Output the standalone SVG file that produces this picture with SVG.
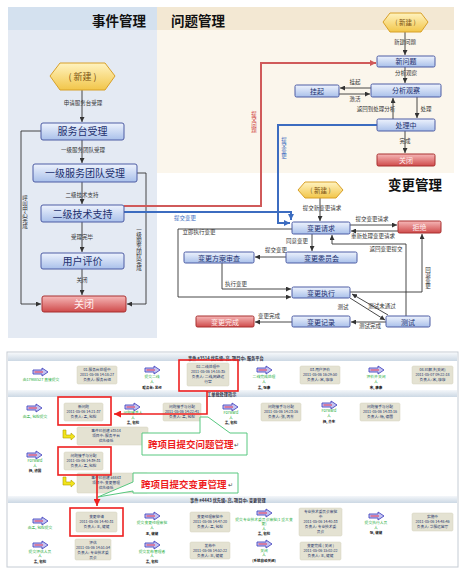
<svg xmlns="http://www.w3.org/2000/svg" xmlns:xlink="http://www.w3.org/1999/xlink" width="464" height="585" viewBox="0 0 464 585">
<defs>
<linearGradient id="gBlue" x1="0" y1="0" x2="0" y2="1"><stop offset="0" stop-color="#eef3fd"/><stop offset="1" stop-color="#a9c0ea"/></linearGradient>
<linearGradient id="gRed" x1="0" y1="0" x2="0" y2="1"><stop offset="0" stop-color="#f6b8b8"/><stop offset="1" stop-color="#cf4a4a"/></linearGradient>
<linearGradient id="gHex" x1="0" y1="0" x2="0" y2="1"><stop offset="0" stop-color="#fff3c0"/><stop offset="1" stop-color="#f2c64a"/></linearGradient>
<linearGradient id="gHdr" x1="0" y1="0" x2="0" y2="1"><stop offset="0" stop-color="#f4f7fa"/><stop offset="1" stop-color="#ccd8e4"/></linearGradient>
<marker id="ah" viewBox="0 0 6 6" refX="6" refY="3" markerWidth="5" markerHeight="5" markerUnits="userSpaceOnUse" orient="auto"><path d="M0,0 L6,3 L0,6 z" fill="#333"/></marker>
<marker id="ahR" viewBox="0 0 6 6" refX="6" refY="3" markerWidth="6" markerHeight="6" markerUnits="userSpaceOnUse" orient="auto"><path d="M0,0 L6,3 L0,6 z" fill="#d05a5a"/></marker>
<marker id="ahB" viewBox="0 0 6 6" refX="6" refY="3" markerWidth="6" markerHeight="6" markerUnits="userSpaceOnUse" orient="auto"><path d="M0,0 L6,3 L0,6 z" fill="#3c6cc0"/></marker>
<marker id="ahRR" viewBox="0 0 6 6" refX="6" refY="3" markerWidth="7" markerHeight="7" markerUnits="userSpaceOnUse" orient="auto"><path d="M0,0 L6,3 L0,6 z" fill="#ee2020"/></marker>
<g id="fat"><path d="M0,2 H9 V0 L15,4 L9,8 V6 H0 Z" fill="#c4c4f2" stroke="#4848c0" stroke-width="0.9"/><path d="M1.5,4 H10" stroke="#e04a6a" stroke-width="1.2"/></g>
<g id="yel"><path d="M0,0 h3 v5 h5 v-2 l4,3.5 l-4,3.5 v-2 h-8 z" fill="#f2e41c" stroke="#b0a000" stroke-width="0.6"/></g>
</defs>
<style>
text{font-family:"Noto Sans CJK SC","Noto Sans",sans-serif}
.title{font-size:13.5px;font-weight:700;fill:#111}
.bn{fill:url(#gBlue);stroke:#4d5ca4;stroke-width:1}
.rn{fill:url(#gRed);stroke:#a83030;stroke-width:1}
.hx{fill:url(#gHex);stroke:#d8a028;stroke-width:1}
.nt{font-size:10px;fill:#22306e;text-anchor:middle}
.ns{font-size:7px;fill:#22306e;text-anchor:middle}
.rt{fill:#fff0f0}
.ht{fill:#7a5212;text-anchor:middle}
.c{fill:none;stroke:#333;stroke-width:0.9;marker-end:url(#ah)}
.lb{font-size:5.5px;fill:#333;text-anchor:middle}
.vt{writing-mode:vertical-rl;text-anchor:middle}
.gb{fill:#e4e2d2;stroke:#d4d0bc;stroke-width:0.5}
.bt{font-size:3.7px;fill:#22336a;text-anchor:middle}
.gt{font-size:3.8px;fill:#1fae3c;text-anchor:middle}
.kt{font-size:3.5px;fill:#111;font-weight:700;text-anchor:middle}
.hd{fill:url(#gHdr)}
.ht2{font-size:4.2px;font-weight:700;fill:#334}
.rr{fill:none;stroke:#ee2020;stroke-width:1.6}
.cl{fill:#fff;stroke:#58c880;stroke-width:1}
.ct{font-size:9.5px;font-weight:700;fill:#ee1c1c;stroke:#fff;stroke-width:1.2;paint-order:stroke}
</style>
<rect width="464" height="585" fill="#fff"/>

<!-- panels -->
<g id="panels">
<rect x="8" y="7" width="149" height="331" fill="#e4eaf3"/>
<rect x="8" y="7" width="149" height="23" fill="#d4e1ef"/>
<text class="title" x="146" y="26" text-anchor="end" font-size="14">事件管理</text>
<rect x="157" y="7" width="297" height="166" fill="#fbf6ec"/>
<rect x="157" y="7" width="297" height="23" fill="#f3e8d3"/>
<text class="title" x="171" y="26">问题管理</text>
<text class="title" x="388" y="190">变更管理</text>
</g>

<g id="connectors">
<!-- event -->
<path class="c" d="M82,90 V122"/>
<path class="c" d="M82,140 V163"/>
<path class="c" d="M82,182 V204"/>
<path class="c" d="M82,222 V252"/>
<path class="c" d="M82,269 V295"/>
<path class="c" d="M41,131 H21 V304 H41"/>
<path class="c" d="M137,173 H146 V304 H127"/>
<text class="lb" x="83" y="105">申请服务台受理</text>
<text class="lb" x="83" y="152">一级服务团队受理</text>
<text class="lb" x="82" y="197">二级技术支持</text>
<text class="lb" x="82" y="239">受理完毕</text>
<text class="lb" x="82" y="282">关闭</text>
<text class="lb vt" x="25" y="212">呼叫中心完成</text>
<text class="lb vt" x="139" y="249">一级服务团队完成</text>
<!-- cross -->
<path d="M124,206 H261 V63 H376" fill="none" stroke="#d05a5a" stroke-width="2" marker-end="url(#ahR)"/>
<path d="M377,125 H278 V223 H290" fill="none" stroke="#3c6cc0" stroke-width="2" marker-end="url(#ahB)"/>
<path d="M124,212 H291 V220" fill="none" stroke="#3c6cc0" stroke-width="2" marker-end="url(#ahB)"/>
<text class="lb vt" x="254" y="122" fill="#d04040" style="fill:#d04040">提交问题</text>
<text class="lb vt" x="284" y="148" style="fill:#3c6cc0">提交变更</text>
<text class="lb" x="185" y="220" style="fill:#3c6cc0">提交变更</text>
<!-- problem -->
<path class="c" d="M405,32 V55"/>
<path class="c" d="M405,67 V83"/>
<path class="c" d="M371,88 H340"/>
<path class="c" d="M339,94 H370"/>
<path class="c" d="M393,119 V98"/>
<path class="c" d="M417,97 V118"/>
<path class="c" d="M405,131 V153"/>
<text class="lb" x="405" y="44">新建问题</text>
<text class="lb" x="406" y="75">分析观察</text>
<text class="lb" x="355" y="84">挂起</text>
<text class="lb" x="355" y="101">激活</text>
<text class="lb" x="376" y="111">返回到处理分析</text>
<text class="lb" x="426" y="111">处理</text>
<text class="lb" x="405" y="143">完成</text>
<!-- change -->
<path class="c" d="M320,198 V221"/>
<path class="c" d="M350,225 H397"/>
<path class="c" d="M398,231 H351"/>
<path class="c" d="M312,234 V251"/>
<path class="c" d="M286,257 H255"/>
<path class="c" d="M222,263 V289 H291"/>
<path class="c" d="M292,229 H178 V297 H291"/>
<path class="c" d="M350,298 L385,320"/>
<path class="c" d="M388,315 L352,294"/>
<path class="c" d="M386,322 H351"/>
<path class="c" d="M292,322 H255"/>
<path class="c" d="M350,292 H422 V234"/>
<path class="c" d="M406,316 V244 H332 V235"/>
<text class="lb" x="322" y="210">提交新变更请求</text>
<text class="lb" x="372" y="221">提交变更请求</text>
<text class="lb" x="373" y="238">重新处理变更请求</text>
<text class="lb" x="297" y="243">同意变更</text>
<text class="lb" x="276" y="252">提交变更</text>
<text class="lb" x="236" y="286">执行变更</text>
<text class="lb" x="199" y="234">立即执行变更</text>
<text class="lb" x="343" y="309">测试</text>
<text class="lb" x="382" y="308">测试未通过</text>
<text class="lb" x="370" y="328">测试完成</text>
<text class="lb" x="269" y="318">变更完成</text>
<text class="lb vt" x="428" y="278">回退变更</text>
<text class="lb" x="386" y="251">返回变更提交</text>
</g>

<!-- event nodes -->
<g id="e-new"><polygon class="hx" points="50,76 60,63 105,63 115,76 105,90 60,90"/><text class="ht" x="82.5" y="80" font-size="9">( 新建 )</text></g>
<g id="e-desk"><rect class="bn" x="41" y="123" width="83" height="17" rx="2"/><text class="nt" x="82.5" y="135">服务台受理</text></g>
<g id="e-l1"><rect class="bn" x="33" y="164" width="104" height="18" rx="2"/><text class="nt" x="85" y="177">一级服务团队受理</text></g>
<g id="e-l2"><rect class="bn" x="41" y="205" width="83" height="17" rx="2"/><text class="nt" x="82.5" y="217.5">二级技术支持</text></g>
<g id="e-eval"><rect class="bn" x="41" y="253" width="83" height="16" rx="2"/><text class="nt" x="82.5" y="265">用户评价</text></g>
<g id="e-close"><rect class="rn" x="42" y="296" width="84" height="16" rx="2"/><text class="nt rt" x="84" y="308">关闭</text></g>

<!-- problem nodes -->
<g id="p-new"><polygon class="hx" points="383,22 390,13 421,13 428,22 421,32 390,32"/><text class="ht" x="405.5" y="25" font-size="6.5">( 新建 )</text></g>
<g id="p-np"><rect class="bn" x="377" y="56" width="58" height="11" rx="1.5"/><text class="ns" x="406" y="64">新问题</text></g>
<g id="p-an"><rect class="bn" x="371" y="84" width="70" height="13" rx="1.5"/><text class="ns" x="406" y="93">分析观察</text></g>
<g id="p-hold"><rect class="bn" x="295" y="85" width="44" height="12" rx="1.5"/><text class="ns" x="317" y="93.5">挂起</text></g>
<g id="p-proc"><rect class="bn" x="377" y="119" width="58" height="12" rx="1.5"/><text class="ns" x="406" y="127.5">处理中</text></g>
<g id="p-close"><rect class="rn" x="377" y="154" width="58" height="12" rx="1.5"/><text class="ns rt" x="406" y="162.5">关闭</text></g>

<!-- change nodes -->
<g id="c-new"><polygon class="hx" points="298,190 305,182 336,182 343,190 336,198 305,198"/><text class="ht" x="320.5" y="192.5" font-size="6.5">( 新建 )</text></g>
<g id="c-req"><rect class="bn" x="292" y="222" width="58" height="12" rx="1.5"/><text class="ns" x="321" y="230.5">变更请求</text></g>
<g id="c-rej"><rect class="rn" x="398" y="221" width="43" height="12" rx="1.5"/><text class="ns rt" x="419.5" y="229.5">拒绝</text></g>
<g id="c-cab"><rect class="bn" x="286" y="252" width="71" height="11" rx="1.5"/><text class="ns" x="321.5" y="260.5">变更委员会</text></g>
<g id="c-rev"><rect class="bn" x="184" y="252" width="70" height="11" rx="1.5"/><text class="ns" x="219" y="260.5">变更方案审查</text></g>
<g id="c-exe"><rect class="bn" x="292" y="287" width="58" height="11" rx="1.5"/><text class="ns" x="321" y="295.5">变更执行</text></g>
<g id="c-test"><rect class="bn" x="386" y="316" width="44" height="11" rx="1.5"/><text class="ns" x="408" y="324.5">测试</text></g>
<g id="c-rec"><rect class="bn" x="292" y="316" width="58" height="11" rx="1.5"/><text class="ns" x="321" y="324.5">变更记录</text></g>
<g id="c-done"><rect class="rn" x="196" y="316" width="58" height="11" rx="1.5"/><text class="ns rt" x="225" y="324.5">变更完成</text></g>

<!-- bottom screenshot -->
<g id="screen">
<rect x="7" y="352" width="451" height="215" fill="#fff" stroke="#c5ccd4" stroke-width="1"/>
<rect class="hd" x="8" y="353" width="449" height="8"/>
<text class="ht2" x="188" y="359.5">事件 #3514 优先级: 高, 项目中: 服务平台</text>
<rect class="hd" x="8" y="390" width="449" height="7"/>
<text class="ht2" x="207" y="395.5">工单批处理指示</text>
<rect class="hd" x="8" y="496" width="449" height="7"/>
<text class="ht2" x="190" y="501.5">事件 #4443 优先级: 高, 项目中: 变更管理</text>
</g>

<g id="s-a1"><use xlink:href="#fat" x="33" y="368"/><text class="gt" x="41" y="381">由17988527 直接提交</text></g>
<g id="s-b1"><rect class="gb" x="77" y="366" width="40" height="18" rx="1.5"/><text class="bt" x="97" y="371">01.服务台处理中</text><text class="bt" x="97" y="376">2011-05-06 14:18:27</text><text class="bt" x="97" y="381">负责人: 服务台组</text></g>
<g id="s-a2"><use xlink:href="#fat" x="145" y="366"/><text class="gt" x="152" y="378">提交二线</text><text class="gt" x="152" y="383">人</text><text class="kt" x="152" y="389">服务台: 总经</text></g>
<g id="s-b2"><rect class="gb" x="187" y="363" width="42" height="23" rx="1.5"/><text class="bt" x="208" y="368">02.二线处理中</text><text class="bt" x="208" y="373">2011-05-06 14:18:35</text><text class="bt" x="208" y="378">负责人: 二线,网络运</text><text class="bt" x="208" y="383">行室</text></g>
<g id="s-a3"><use xlink:href="#fat" x="257" y="366"/><text class="gt" x="264" y="378">二线完成处理</text><text class="gt" x="264" y="383">人</text><text class="kt" x="264" y="389">孟, 张康</text></g>
<g id="s-b3"><rect class="gb" x="300" y="366" width="40" height="18" rx="1.5"/><text class="bt" x="320" y="371">03.用户评价</text><text class="bt" x="320" y="376">2011-05-06 16:29:50</text><text class="bt" x="320" y="381">负责人: 宋, 康康</text></g>
<g id="s-a4"><use xlink:href="#fat" x="369" y="366"/><text class="gt" x="376" y="378">评价并关闭</text><text class="gt" x="376" y="383">人</text><text class="kt" x="376" y="389">宋, 康康</text></g>
<g id="s-b4"><rect class="gb" x="412" y="366" width="41" height="18" rx="1.5"/><text class="bt" x="432.5" y="371">04.已解决(关闭)</text><text class="bt" x="432.5" y="376">2011-05-07 09:22:18</text><text class="bt" x="432.5" y="381">负责人: 宋, 康康</text></g>

<g id="s-a5"><use xlink:href="#fat" x="27" y="404"/><text class="gt" x="35" y="418">由孟, 包检提交</text></g>
<g id="s-b5"><rect class="gb" x="64" y="403" width="39" height="18" rx="1.5"/><text class="bt" x="83.5" y="408">新问题</text><text class="bt" x="83.5" y="413">2011-05-06 14:21:37</text><text class="bt" x="83.5" y="418">负责人: 孟, 包检</text></g>
<g id="s-a6"><use xlink:href="#fat" x="125" y="403"/><text class="gt" x="133" y="414">问题接手人</text><text class="gt" x="133" y="418.5">人</text><text class="kt" x="133" y="424">孟, 包检</text></g>
<g id="s-b6"><rect class="gb" x="163" y="403" width="38" height="18" rx="1.5"/><text class="bt" x="182" y="408">问题接手与分配</text><text class="bt" x="182" y="413">2011-05-06 14:22:41</text><text class="bt" x="182" y="418">负责人: 孟, 包检</text></g>
<g id="s-a7"><use xlink:href="#fat" x="223" y="403"/><text class="gt" x="231" y="414">Forward</text><text class="gt" x="231" y="418.5">人</text><text class="kt" x="231" y="424">孟, 包检</text></g>
<g id="s-b7"><rect class="gb" x="261" y="403" width="40" height="18" rx="1.5"/><text class="bt" x="281" y="408">问题接手与分配</text><text class="bt" x="281" y="413">2011-05-06 14:23:16</text><text class="bt" x="281" y="418">负责人: 张, 丙东</text></g>
<g id="s-a8"><use xlink:href="#fat" x="322" y="401"/><text class="gt" x="329" y="412">Forward</text><text class="gt" x="329" y="417">人</text><text class="kt" x="329" y="422.5">杨, 齐东</text></g>
<g id="s-b8"><rect class="gb" x="360" y="403" width="40" height="18" rx="1.5"/><text class="bt" x="380" y="408">问题接手与分配</text><text class="bt" x="380" y="413">2011-05-06 14:33:16</text><text class="bt" x="380" y="418">负责人: 杨, 德国</text></g>
<g id="s-y1"><use xlink:href="#yel" x="63" y="430"/></g>
<g id="s-b9"><rect class="gb" x="77" y="427" width="71" height="18" rx="1.5"/><text class="bt" x="106" y="432">事件已创建 #3514</text><text class="bt" x="106" y="437">项目中: 服务平台</text><text class="bt" x="106" y="442">优先级低</text></g>
<g id="s-a9"><use xlink:href="#fat" x="27" y="451"/><text class="gt" x="35" y="462">Forward</text><text class="gt" x="35" y="466.5">人</text><text class="kt" x="35" y="472">杨, 德国</text></g>
<g id="s-b10"><rect class="gb" x="64" y="452" width="39" height="18" rx="1.5"/><text class="bt" x="83.5" y="457">问题接手与分配</text><text class="bt" x="83.5" y="462">2011-05-06 14:39:31</text><text class="bt" x="83.5" y="467">负责人: 孟, 包检</text></g>
<g id="s-y2"><use xlink:href="#yel" x="63" y="477"/></g>
<g id="s-b11"><rect class="gb" x="77" y="473" width="71" height="20" rx="1.5"/><text class="bt" x="106" y="479">事件已创建 #4443</text><text class="bt" x="106" y="484">项目中: 变更管理</text><text class="bt" x="106" y="489">优先级低</text></g>

<g id="s-a10"><use xlink:href="#fat" x="33" y="517"/><text class="gt" x="40" y="529">由孟, 包检提交</text></g>
<g id="s-b12"><rect class="gb" x="76" y="512" width="41" height="20" rx="1.5"/><text class="bt" x="96.5" y="518">变更申请</text><text class="bt" x="96.5" y="523">2011-05-06 14:40:31</text><text class="bt" x="96.5" y="528">负责人: 王, 健健</text></g>
<g id="s-a11"><use xlink:href="#fat" x="145" y="512"/><text class="gt" x="152" y="524">提交变更经理审批</text><text class="gt" x="152" y="529">人</text><text class="kt" x="152" y="535">王, 健健</text></g>
<g id="s-b13"><rect class="gb" x="190" y="512" width="40" height="20" rx="1.5"/><text class="bt" x="210" y="518">变更经理审批中</text><text class="bt" x="210" y="523">2011-05-06 14:47:20</text><text class="bt" x="210" y="528">负责人: 孟, 包检</text></g>
<g id="s-a12"><use xlink:href="#fat" x="257" y="509"/><text class="gt" x="264" y="520.5">提交专业技术委员会审批(1 重大变</text><text class="gt" x="264" y="525">更)</text><text class="gt" x="264" y="529.5">人</text><text class="kt" x="264" y="535">孟, 包检</text></g>
<g id="s-b14"><rect class="gb" x="299" y="508" width="43" height="28" rx="1.5"/><text class="bt" x="320.5" y="513">专业技术委员会审批</text><text class="bt" x="320.5" y="518">中</text><text class="bt" x="320.5" y="523">2011-05-06 14:40:33</text><text class="bt" x="320.5" y="528">负责人: 专业技术委</text><text class="bt" x="320.5" y="533">员会</text></g>
<g id="s-a13"><use xlink:href="#fat" x="369" y="512"/><text class="gt" x="376" y="524">提交执行人员</text><text class="gt" x="376" y="528.5">人</text><text class="kt" x="376" y="534">张, 健健</text></g>
<g id="s-b15"><rect class="gb" x="412" y="513" width="41" height="18" rx="1.5"/><text class="bt" x="432.5" y="518">实施中</text><text class="bt" x="432.5" y="523">2011-05-06 14:48:46</text><text class="bt" x="432.5" y="528">负责人: 华服运营厅</text></g>
<g id="s-a14"><use xlink:href="#fat" x="33" y="541"/><text class="gt" x="40" y="552.5">提交评估人员</text><text class="gt" x="40" y="557">人</text><text class="kt" x="40" y="562.5">孟, 包检</text></g>
<g id="s-b16"><rect class="gb" x="75" y="539" width="36" height="21" rx="1.5"/><text class="bt" x="93" y="544">评估</text><text class="bt" x="93" y="549" font-size="3.4">2011-05-06 14:51:54</text><text class="bt" x="93" y="554">负责人: 专业技术委</text><text class="bt" x="93" y="558.5">员会</text></g>
<g id="s-a15"><use xlink:href="#fat" x="145" y="541"/><text class="gt" x="152" y="552.5">提交发布管理者</text><text class="gt" x="152" y="557">人</text><text class="kt" x="152" y="562.5">孟, 包检</text></g>
<g id="s-b17"><rect class="gb" x="190" y="542" width="40" height="17" rx="1.5"/><text class="bt" x="210" y="547">发布中</text><text class="bt" x="210" y="552">2011-05-06 14:52:22</text><text class="bt" x="210" y="557">负责人: 王, 健健</text></g>
<g id="s-a16"><use xlink:href="#fat" x="257" y="540"/><text class="gt" x="264" y="551.5">关闭</text><text class="gt" x="264" y="556">人</text><text class="kt" x="264" y="561.5">(系统自动关闭)</text></g>
<g id="s-b18"><rect class="gb" x="300" y="542" width="41" height="18" rx="1.5"/><text class="bt" x="320.5" y="547">变更完成 ( 关闭 )</text><text class="bt" x="320.5" y="552">2011-05-06 15:02:22</text><text class="bt" x="320.5" y="557">负责人: 王, 健健</text></g>

<!-- highlight annotations -->
<g id="s-connectors">
<rect class="rr" x="179" y="360" width="59" height="31"/>
<rect class="rr" x="58" y="397" width="53" height="28"/>
<rect class="rr" x="58" y="447" width="53" height="28"/>
<rect class="rr" x="70" y="508" width="53" height="28"/>
<path d="M207,391 V414 H114" fill="none" stroke="#ee2020" stroke-width="1.6" marker-end="url(#ahRR)"/>
<path d="M97,475 V506" fill="none" stroke="#ee2020" stroke-width="1.6" marker-end="url(#ahRR)"/>
</g>
<g id="callout1"><path class="cl" d="M142,433 H200 V417 L208,417 L230,433 H247 V455 H142 Z"/><text class="ct" x="148" y="447.5">跨项目提交问题管理</text><text x="234" y="447" font-size="6" fill="#444">↵</text></g>
<g id="callout2"><path class="cl" d="M133,473 H238 V493 H133 V491 L98,497 L133,482 Z"/><text class="ct" x="141" y="487.5">跨项目提交变更管理</text><text x="228" y="487" font-size="6" fill="#444">↵</text></g>
</svg>
